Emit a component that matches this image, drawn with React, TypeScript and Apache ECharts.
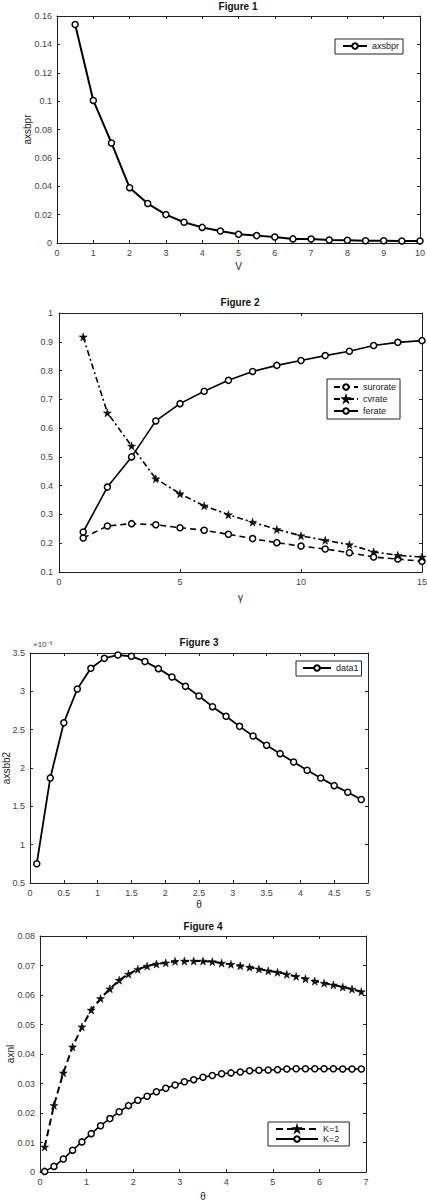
import React, { useEffect, useRef } from 'react';
import * as echarts from 'echarts';

const FONT = '"Liberation Sans", Arial, Helvetica, sans-serif';

// ---------- Figure 1 ----------
const fig1V = [0.5, 1, 1.5, 2, 2.5, 3, 3.5, 4, 4.5, 5, 5.5, 6, 6.5, 7, 7.5, 8, 8.5, 9, 9.5, 10];
const fig1Axsbpr = [0.154, 0.1005, 0.0705, 0.039, 0.0278, 0.02, 0.0146, 0.011, 0.0085, 0.0062,
  0.0052, 0.0042, 0.0029, 0.0028, 0.0021, 0.0019, 0.0016, 0.0016, 0.0014, 0.0014];

// ---------- Figure 2 ----------
const fig2Gamma = [1, 2, 3, 4, 5, 6, 7, 8, 9, 10, 11, 12, 13, 14, 15];
const fig2Surorate = [0.218, 0.26, 0.268, 0.264, 0.254, 0.245, 0.231, 0.216, 0.202, 0.19, 0.18, 0.167, 0.152, 0.145, 0.137];
const fig2Cvrate = [0.917, 0.653, 0.538, 0.424, 0.372, 0.33, 0.299, 0.273, 0.248, 0.226, 0.21, 0.195, 0.17, 0.158, 0.152];
const fig2Ferate = [0.239, 0.395, 0.5, 0.625, 0.685, 0.728, 0.766, 0.797, 0.818, 0.835, 0.852, 0.867, 0.887, 0.898, 0.904];

// ---------- Figure 3 ----------
const fig3Theta = [0.1, 0.3, 0.5, 0.7, 0.9, 1.1, 1.3, 1.5, 1.7, 1.9, 2.1, 2.3, 2.5, 2.7, 2.9, 3.1, 3.3, 3.5, 3.7, 3.9, 4.1, 4.3, 4.5, 4.7, 4.9];
const fig3Axsbb2 = [0.000752, 0.00187, 0.00259, 0.00303, 0.0033, 0.00343, 0.003474, 0.003457, 0.00339, 0.003296,
  0.003187, 0.003065, 0.00294, 0.0028, 0.002674, 0.002543, 0.002417, 0.002296, 0.002187, 0.002078,
  0.00197, 0.00187, 0.00177, 0.001683, 0.00159];

// ---------- Figure 4 ----------
const fig4Theta = [0.1, 0.3, 0.5, 0.7, 0.9, 1.1, 1.3, 1.5, 1.7, 1.9, 2.1, 2.3, 2.5, 2.7, 2.9, 3.1, 3.3, 3.5, 3.7, 3.9,
  4.1, 4.3, 4.5, 4.7, 4.9, 5.1, 5.3, 5.5, 5.7, 5.9, 6.1, 6.3, 6.5, 6.7, 6.9];
const fig4K1 = [0.0085, 0.0226, 0.0336, 0.0424, 0.0492, 0.0549, 0.0588, 0.0621, 0.065, 0.0671,
  0.0687, 0.0698, 0.0705, 0.0709, 0.0714, 0.0715, 0.0715, 0.0715, 0.0713, 0.0708,
  0.0704, 0.0699, 0.0694, 0.0688, 0.0682, 0.0677, 0.067, 0.0663, 0.0655, 0.0647,
  0.064, 0.0634, 0.0627, 0.062, 0.0611];
const fig4K2 = [0.0002, 0.0019, 0.0044, 0.0074, 0.0102, 0.013, 0.0157, 0.0181, 0.0204, 0.0225,
  0.0243, 0.0257, 0.0272, 0.0284, 0.0295, 0.0306, 0.0313, 0.0321, 0.0327, 0.0333,
  0.0336, 0.0339, 0.0343, 0.0345, 0.0346, 0.0347, 0.0349, 0.035, 0.035, 0.035,
  0.035, 0.035, 0.0349, 0.0349, 0.0349];

const STAR = 'path://M50,0 L61,35 L98,35 L68,57 L79,91 L50,70 L21,91 L32,57 L2,35 L39,35 Z';

const zip = (xs: number[], ys: number[]) => xs.map((x, i) => [x, ys[i]]);

const grids = [
  { left: 57, top: 16, width: 363, height: 227 },
  { left: 59, top: 313, width: 363, height: 259 },
  { left: 30, top: 653, width: 338, height: 230 },
  { left: 40, top: 936, width: 326, height: 236 },
];

function axis(gridIndex: number, position: string, min: number, max: number, interval: number, showLabel: boolean, extra: any = {}) {
  return {
    type: 'value',
    gridIndex,
    position,
    min,
    max,
    interval,
    axisLine: { show: true, onZero: false, lineStyle: { color: '#222', width: 1 } },
    axisTick: { show: true, inside: true, length: 3, lineStyle: { color: '#222', width: 1 } },
    axisLabel: { show: showLabel, fontSize: 9, color: '#444', fontFamily: FONT, margin: 5 },
    splitLine: { show: false },
    nameMoveOverlap: false,
    nameTextStyle: { fontSize: 10, color: '#222', fontFamily: FONT },
    ...extra,
  };
}

const xAxes: any[] = [];
const yAxes: any[] = [];
function addAxes(g: number, x: [number, number, number], y: [number, number, number], xExtra: any, yExtra: any) {
  xAxes.push(axis(g, 'bottom', x[0], x[1], x[2], true, xExtra));
  xAxes.push(axis(g, 'top', x[0], x[1], x[2], false));
  yAxes.push(axis(g, 'left', y[0], y[1], y[2], true, yExtra));
  yAxes.push(axis(g, 'right', y[0], y[1], y[2], false));
}

addAxes(0, [0, 10, 1], [0, 0.16, 0.02],
  { name: 'V', nameLocation: 'middle', nameGap: 18 },
  { name: 'axsbpr', nameLocation: 'middle', nameGap: 25 });
addAxes(1, [0, 15, 5], [0.1, 1, 0.1],
  { name: 'γ', nameLocation: 'middle', nameGap: 20 },
  { axisLabel: { fontSize: 9, color: '#444', fontFamily: FONT, margin: 6 } });
addAxes(2, [0, 5, 0.5], [0.0005, 0.0035, 0.0005],
  { name: 'θ', nameLocation: 'middle', nameGap: 16 },
  {
    name: 'axsbb2', nameLocation: 'middle', nameGap: 19,
    axisLabel: {
      fontSize: 9, color: '#444', fontFamily: FONT, margin: 5,
      formatter: (v: number) => String(Math.round(v * 10000) / 10),
    },
  });
addAxes(3, [0, 7, 1], [0, 0.08, 0.01],
  { name: 'θ', nameLocation: 'middle', nameGap: 19 },
  { name: 'axnl', nameLocation: 'middle', nameGap: 25 });

const circleItem = { color: '#fff', borderColor: '#000', borderWidth: 1.5 };
const starItem = { color: '#111', borderColor: '#000', borderWidth: 0.5 };

const series: any[] = [
  {
    name: 'axsbpr', type: 'line', xAxisIndex: 0, yAxisIndex: 0,
    data: zip(fig1V, fig1Axsbpr),
    symbol: 'circle', symbolSize: 6, itemStyle: circleItem,
    lineStyle: { color: '#000', width: 2 },
  },
  {
    name: 'surorate', type: 'line', xAxisIndex: 2, yAxisIndex: 2,
    data: zip(fig2Gamma, fig2Surorate),
    symbol: 'circle', symbolSize: 6, itemStyle: circleItem,
    lineStyle: { color: '#000', width: 1.6, type: [6, 4] },
  },
  {
    name: 'cvrate', type: 'line', xAxisIndex: 2, yAxisIndex: 2,
    data: zip(fig2Gamma, fig2Cvrate),
    symbol: STAR, symbolSize: 8, itemStyle: starItem,
    lineStyle: { color: '#000', width: 1.6, type: [6, 3, 2, 3] },
  },
  {
    name: 'ferate', type: 'line', xAxisIndex: 2, yAxisIndex: 2,
    data: zip(fig2Gamma, fig2Ferate),
    symbol: 'circle', symbolSize: 6, itemStyle: circleItem,
    lineStyle: { color: '#000', width: 1.6 },
  },
  {
    name: 'data1', type: 'line', xAxisIndex: 4, yAxisIndex: 4,
    data: zip(fig3Theta, fig3Axsbb2),
    symbol: 'circle', symbolSize: 6, itemStyle: circleItem,
    lineStyle: { color: '#000', width: 1.8 },
  },
  {
    name: 'K=1', type: 'line', xAxisIndex: 6, yAxisIndex: 6,
    data: zip(fig4Theta, fig4K1),
    symbol: STAR, symbolSize: 8, itemStyle: starItem,
    lineStyle: { color: '#000', width: 2, type: [7, 4] },
  },
  {
    name: 'K=2', type: 'line', xAxisIndex: 6, yAxisIndex: 6,
    data: zip(fig4Theta, fig4K2),
    symbol: 'circle', symbolSize: 6, itemStyle: circleItem,
    lineStyle: { color: '#000', width: 1.6 },
  },
];

function legend(names: string[], left: number, top: number, itemWidth: number, padding: number[], itemGap: number) {
  return {
    data: names,
    left,
    top,
    orient: 'vertical',
    itemWidth,
    itemHeight: 7,
    itemGap,
    padding,
    borderColor: '#222',
    borderWidth: 1,
    borderRadius: 0,
    backgroundColor: '#fff',
    selectedMode: false,
    textStyle: { fontSize: 9, color: '#222', fontFamily: FONT, lineHeight: 10 },
  };
}

const titles = [
  { text: 'Figure 1', x: 238, y: 6 },
  { text: 'Figure 2', x: 240, y: 302 },
  { text: 'Figure 3', x: 199, y: 642 },
  { text: 'Figure 4', x: 203, y: 926 },
];

const option: any = {
  animation: false,
  backgroundColor: '#fff',
  grid: grids.map((g) => ({ ...g, containLabel: false, outerBoundsMode: 'none' })),
  xAxis: xAxes,
  yAxis: yAxes,
  series,
  legend: [
    legend(['axsbpr'], 335, 39, 24, [2, 4, 3, 7], 2),
    legend(['surorate', 'cvrate', 'ferate'], 327, 379, 24, [3, 4, 3, 6], 2),
    legend(['data1'], 296, 661, 28, [2, 3, 3, 6], 2),
    legend(['K=1', 'K=2'], 268, 1122, 42, [2, 10, 2, 7], 0),
  ],
  graphic: [
    ...titles.map((t) => ({
      type: 'text', x: t.x, y: t.y,
      style: { text: t.text, align: 'center', verticalAlign: 'middle', font: `bold 10px ${FONT}`, fill: '#111' },
    })),
    {
      type: 'text', x: 33, y: 644,
      style: { text: '×10⁻³', align: 'left', verticalAlign: 'middle', font: `8px ${FONT}`, fill: '#444' },
    },
  ],
};

export default function App() {
  const ref = useRef<HTMLDivElement>(null);
  useEffect(() => {
    document.body.style.margin = '0';
    const chart = echarts.init(ref.current as HTMLDivElement, null, { renderer: 'svg' });
    chart.setOption(option);
    return () => chart.dispose();
  }, []);
  return <div ref={ref} style={{ width: 427, height: 1200 }} />;
}
